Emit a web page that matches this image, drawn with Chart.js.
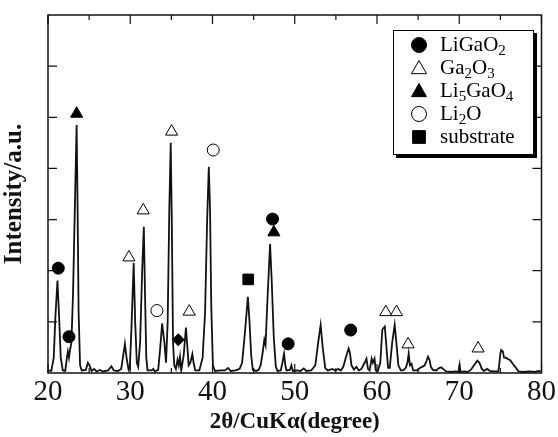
<!DOCTYPE html>
<html>
<head>
<meta charset="utf-8">
<script src="https://cdn.jsdelivr.net/npm/chart.js@4.4.0/dist/chart.umd.min.js"></script>
<style>
  html, body { margin: 0; padding: 0; background: #fff; }
  #wrap { width: 558px; height: 437px; position: relative; }
</style>
</head>
<body>
<div id="wrap"><canvas id="xrd" width="558" height="437"></canvas></div>
<script>
// diffraction trace, [2theta, intensity a.u.]
const trace = [
  [20.0, 0.05], [20.4, 0.04], [20.7, 0.3], [20.9, 1.1], [21.15, 1.81], [21.35, 1.1], [21.55, 0.3], [21.8, 0.05],
  [22.1, 0.04], [22.3, 0.3], [22.42, 0.42], [22.55, 0.3], [22.68, 0.45], [22.85, 0.6], [23.05, 1.6], [23.3, 3.5],
  [23.48, 4.85], [23.6, 3.2], [23.72, 1.2], [23.9, 0.15], [24.1, 0.05], [24.6, 0.06], [24.85, 0.2], [25.05, 0.15],
  [25.3, 0.04], [25.6, 0.08], [25.9, 0.03], [26.3, 0.06], [26.7, 0.03], [27.3, 0.05], [27.7, 0.13], [28.0, 0.05],
  [28.5, 0.04], [28.9, 0.08], [29.15, 0.35], [29.35, 0.57], [29.55, 0.3], [29.8, 0.06], [29.95, 0.1], [30.15, 0.9],
  [30.42, 2.15], [30.6, 1.0], [30.8, 0.2], [30.97, 0.12], [31.2, 0.6], [31.45, 2.0], [31.65, 2.86], [31.8, 1.5],
  [31.95, 0.3], [32.1, 0.05], [32.6, 0.05], [32.8, 0.08], [33.0, 0.03], [33.4, 0.06], [33.65, 0.5], [33.88, 0.97],
  [34.0, 0.8], [34.15, 0.6], [34.35, 0.2], [34.55, 1.0], [34.75, 3.2], [34.92, 4.5], [35.05, 3.0], [35.2, 0.6],
  [35.35, 0.15], [35.55, 0.08], [35.75, 0.26], [35.9, 0.15], [36.05, 0.32], [36.2, 0.05], [36.5, 0.35], [36.77, 0.89],
  [36.95, 0.5], [37.1, 0.15], [37.3, 0.2], [37.55, 0.37], [37.7, 0.2], [37.9, 0.05], [38.4, 0.05], [38.8, 0.3],
  [39.1, 1.2], [39.35, 3.0], [39.55, 4.03], [39.7, 3.2], [39.85, 1.3], [40.05, 0.15], [40.3, 0.04], [41.0, 0.05],
  [41.5, 0.05], [41.9, 0.1], [42.2, 0.04], [42.8, 0.05], [43.3, 0.08], [43.6, 0.2], [43.95, 0.8], [44.3, 1.49],
  [44.5, 1.0], [44.7, 0.35], [44.9, 0.06], [45.3, 0.04], [45.6, 0.06], [45.85, 0.15], [46.1, 0.4], [46.3, 0.65],
  [46.45, 0.55], [46.7, 1.5], [47.0, 2.52], [47.2, 1.8], [47.45, 0.7], [47.7, 0.12], [47.9, 0.04], [48.3, 0.05],
  [48.5, 0.2], [48.7, 0.38], [48.85, 0.15], [49.0, 0.05], [49.4, 0.06], [49.6, 0.15], [49.75, 0.04], [50.2, 0.05],
  [50.7, 0.04], [51.1, 0.09], [51.4, 0.04], [52.0, 0.05], [52.5, 0.15], [52.85, 0.6], [53.15, 0.94], [53.4, 0.5],
  [53.7, 0.1], [54.0, 0.05], [54.6, 0.08], [54.9, 0.05], [55.3, 0.08], [55.6, 0.05], [55.9, 0.12], [56.2, 0.3],
  [56.55, 0.48], [56.7, 0.4], [56.9, 0.15], [57.2, 0.07], [57.5, 0.12], [57.8, 0.05], [58.1, 0.08], [58.5, 0.2],
  [58.72, 0.28], [58.9, 0.08], [59.1, 0.05], [59.35, 0.28], [59.5, 0.2], [59.7, 0.28], [59.85, 0.05], [60.1, 0.04],
  [60.4, 0.2], [60.65, 0.85], [60.95, 0.91], [61.15, 0.5], [61.35, 0.1], [61.55, 0.1], [61.85, 0.6], [62.15, 0.94],
  [62.35, 0.6], [62.6, 0.15], [62.9, 0.05], [63.2, 0.05], [63.5, 0.1], [63.7, 0.2], [63.85, 0.38], [64.0, 0.15],
  [64.2, 0.18], [64.4, 0.05], [64.9, 0.05], [65.2, 0.1], [65.5, 0.12], [65.8, 0.15], [66.05, 0.25], [66.2, 0.32],
  [66.4, 0.25], [66.55, 0.12], [66.8, 0.06], [67.2, 0.05], [67.5, 0.09], [67.8, 0.11], [68.1, 0.07], [68.4, 0.03],
  [69.0, 0.02], [69.5, 0.03], [69.9, 0.02], [70.05, 0.16], [70.15, 0.02], [70.6, 0.03], [71.0, 0.02], [71.4, 0.06],
  [71.8, 0.15], [72.2, 0.24], [72.45, 0.2], [72.75, 0.08], [73.0, 0.04], [73.4, 0.08], [73.7, 0.04], [74.2, 0.03],
  [74.75, 0.03], [74.85, 0.15], [75.0, 0.38], [75.1, 0.45], [75.3, 0.42], [75.45, 0.3], [75.7, 0.3], [75.95, 0.27],
  [76.2, 0.25], [76.5, 0.18], [76.9, 0.1], [77.2, 0.03], [77.8, 0.02], [78.5, 0.03], [79.2, 0.02], [79.6, 0.04],
  [79.9, 0.03]
];

// phase markers [2theta, height]
const liGaO2 = [[21.25, 2.05], [22.55, 0.71], [47.3, 3.01], [49.2, 0.57], [56.8, 0.84]];
const ga2O3 = [[29.84, 2.26], [31.58, 3.18], [35.03, 4.72], [37.17, 1.2], [61.07, 1.19], [62.37, 1.19], [63.78, 0.56], [72.29, 0.48]];
const li5GaO4 = [[23.48, 5.07], [47.46, 2.75]];
const li2O = [[33.24, 1.22], [40.09, 4.36]];
const substrate = [[44.34, 1.83]];
const unknown = [[35.84, 0.65]];

const xTicks = [20, 30, 40, 50, 60, 70, 80];

const legendItems = [
  { style: "circle", fill: true, parts: [["LiGaO", 0], ["2", 1]] },
  { style: "triangle", fill: false, parts: [["Ga", 0], ["2", 1], ["O", 0], ["3", 1]] },
  { style: "triangle", fill: true, parts: [["Li", 0], ["5", 1], ["GaO", 0], ["4", 1]] },
  { style: "circle", fill: false, parts: [["Li", 0], ["2", 1], ["O", 0]] },
  { style: "rect", fill: true, parts: [["substrate", 0]] }
];

const SERIF = "'Liberation Serif', 'DejaVu Serif', serif";

function pts(arr) {
  return arr.map(p => ({ x: p[0], y: p[1] }));
}

function markerSet(label, arr, style, filled, r) {
  return {
    label: label,
    data: pts(arr),
    showLine: false,
    pointStyle: style,
    pointRadius: r,
    pointHoverRadius: r,
    pointBackgroundColor: filled ? "#000" : "#fff",
    pointBorderColor: "#000",
    pointBorderWidth: 1
  };
}

// frame with inward ticks, like the printed figure
const framePlugin = {
  id: "frame",
  afterDatasetsDraw(chart) {
    const { ctx, chartArea: a, scales: { x, y } } = chart;
    ctx.save();
    ctx.strokeStyle = "#111";
    ctx.lineWidth = 1.5;
    ctx.strokeRect(a.left, a.top, a.right - a.left, a.bottom - a.top);
    ctx.lineWidth = 1.2;
    ctx.beginPath();
    for (let v = 20; v <= 80; v += 5) {
      const px = x.getPixelForValue(v);
      const len = v % 10 === 0 ? 9 : 5;
      ctx.moveTo(px, a.bottom); ctx.lineTo(px, a.bottom - len);
      ctx.moveTo(px, a.top); ctx.lineTo(px, a.top + len);
    }
    for (let v = 1; v < 7; v++) {
      const py = y.getPixelForValue(v);
      ctx.moveTo(a.left, py); ctx.lineTo(a.left + 9, py);
      ctx.moveTo(a.right, py); ctx.lineTo(a.right - 9, py);
    }
    ctx.stroke();
    ctx.restore();
  }
};

function drawMarker(ctx, style, fill, cx, cy, r) {
  ctx.beginPath();
  if (style === "circle") {
    ctx.arc(cx, cy, r, 0, Math.PI * 2);
  } else if (style === "triangle") {
    ctx.moveTo(cx, cy - r);
    ctx.lineTo(cx + r * 1.0, cy + r * 0.75);
    ctx.lineTo(cx - r * 1.0, cy + r * 0.75);
    ctx.closePath();
  } else {
    ctx.rect(cx - r * 0.85, cy - r * 0.85, 1.7 * r, 1.7 * r);
  }
  ctx.fillStyle = fill ? "#000" : "#fff";
  ctx.fill();
  ctx.strokeStyle = "#000";
  ctx.lineWidth = 1;
  ctx.stroke();
}

const legendPlugin = {
  id: "phaseLegend",
  afterDraw(chart) {
    const ctx = chart.ctx;
    const bx = 393, by = 30, bw = 141, bh = 125;
    ctx.save();
    ctx.fillStyle = "#000";
    ctx.fillRect(bx + 3, by + 3, bw, bh);
    ctx.fillStyle = "#fff";
    ctx.fillRect(bx, by, bw, bh);
    ctx.strokeStyle = "#000";
    ctx.lineWidth = 1;
    ctx.strokeRect(bx + 0.5, by + 0.5, bw - 1, bh - 1);
    legendItems.forEach((it, i) => {
      const cy = by + 15 + i * 23;
      drawMarker(ctx, it.style, it.fill, 419, cy, 7.5);
      let tx = 440;
      ctx.fillStyle = "#000";
      ctx.textBaseline = "middle";
      it.parts.forEach(p => {
        ctx.font = p[1] ? "15px " + SERIF : "21px " + SERIF;
        ctx.fillText(p[0], tx, p[1] ? cy + 6 : cy);
        tx += ctx.measureText(p[0]).width;
      });
    });
    ctx.restore();
  }
};

new Chart(document.getElementById("xrd"), {
  type: "scatter",
  data: {
    datasets: [
      {
        label: "XRD",
        data: pts(trace),
        showLine: true,
        borderColor: "#111",
        borderWidth: 1.8,
        pointRadius: 0,
        tension: 0,
        fill: false
      },
      markerSet("LiGaO2", liGaO2, "circle", true, 6),
      markerSet("Ga2O3", ga2O3, "triangle", false, 7),
      markerSet("Li5GaO4", li5GaO4, "triangle", true, 7),
      markerSet("Li2O", li2O, "circle", false, 6),
      markerSet("substrate", substrate, "rect", true, 7.5),
      markerSet("unknown", unknown, "rectRot", true, 6)
    ]
  },
  options: {
    responsive: false,
    animation: false,
    events: [],
    layout: { padding: { top: 15, right: 16, left: 0, bottom: 0 } },
    plugins: { legend: { display: false }, tooltip: { enabled: false } },
    scales: {
      x: {
        type: "linear",
        min: 20,
        max: 80,
        afterFit: s => { s.height = 64; },
        afterBuildTicks: s => { s.ticks = xTicks.map(v => ({ value: v })); },
        grid: { display: false, drawTicks: false },
        border: { display: false },
        ticks: {
          padding: 2,
          color: "#111",
          font: { family: SERIF, size: 29 },
          maxRotation: 0
        },
        title: {
          display: true,
          text: "2θ/CuKα(degree)",
          color: "#111",
          font: { family: SERIF, size: 23, weight: "bold" },
          padding: { top: 0, bottom: 1 }
        }
      },
      y: {
        min: 0,
        max: 7,
        afterFit: s => { s.width = 48; },
        grid: { display: false, drawTicks: false },
        border: { display: false },
        ticks: { display: false, stepSize: 1 },
        title: {
          display: true,
          text: "Intensity/a.u.",
          color: "#111",
          font: { family: SERIF, size: 25, weight: "bold" },
          padding: { top: 0, bottom: 0 }
        }
      }
    }
  },
  plugins: [framePlugin, legendPlugin]
});
</script>
</body>
</html>
